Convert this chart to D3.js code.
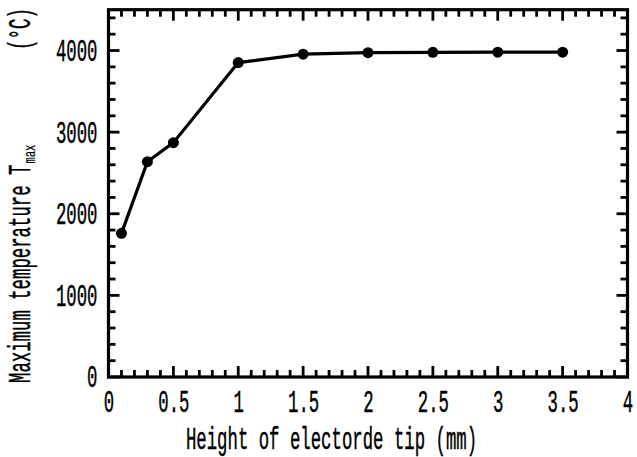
<!DOCTYPE html>
<html><head><meta charset="utf-8">
<script src="https://cdn.jsdelivr.net/npm/d3@7"></script>
<style>body{margin:0;background:#fff}svg{display:block}</style>
</head><body>
<script>
const heights = [0.1, 0.3, 0.5, 1, 1.5, 2, 2.5, 3, 3.5];
const tmax = [1760, 2638, 2871, 3852, 3955, 3974, 3978, 3980, 3980];
const xMajor = [0, 0.5, 1, 1.5, 2, 2.5, 3, 3.5, 4];
const xLabels = ["0", "0.5", "1", "1.5", "2", "2.5", "3", "3.5", "4"];
const yMajor = [0, 1000, 2000, 3000, 4000];
const yLabels = ["0", "1000", "2000", "3000", "4000"];
const xTitle = "Height of electorde tip (mm)";
const yTitleMain = "Maximum temperature T";
const yTitleSub = "max";
const yTitleUnit = "(°C)";

const W = 637, H = 457;
const L = 108.5, R = 627.5, T = 9.7, B = 377;
const CW = 10.4;
const FS = 31;
const FONT = "'Liberation Mono', 'DejaVu Sans Mono', monospace";

const svg = d3.select("body").append("svg").attr("width", W).attr("height", H);
const x = d3.scaleLinear().domain([0, 4]).range([L, R]);
const y = d3.scaleLinear().domain([0, 4500]).range([B, T]);

const xMinor = d3.range(0, 41).map(i => i / 10).filter(v => Math.abs(v * 2 - Math.round(v * 2)) > 1e-6);
const yMinor = d3.range(0, 4401, 200).filter(v => v % 1000 !== 0);

// tick marks (inward on all four sides), positioned by the scales
const tg = svg.append("g").attr("fill", "#000");
const TW = 2.8;
function addTicksX(vals, len) {
  vals.forEach(v => {
    tg.append("rect").attr("x", x(v) - TW / 2).attr("y", B - len).attr("width", TW).attr("height", len);
    tg.append("rect").attr("x", x(v) - TW / 2).attr("y", T).attr("width", TW).attr("height", len);
  });
}
function addTicksY(vals, len) {
  vals.forEach(v => {
    tg.append("rect").attr("x", L).attr("y", y(v) - TW / 2).attr("width", len).attr("height", TW);
    tg.append("rect").attr("x", R - len).attr("y", y(v) - TW / 2).attr("width", len).attr("height", TW);
  });
}
addTicksX(xMinor, 7);
addTicksX(xMajor, 11);
addTicksY(yMinor, 7);
addTicksY(yMajor, 11);

function styleText(sel) {
  sel.attr("font-family", FONT).attr("fill", "#000")
    .attr("stroke", "#000").attr("stroke-width", 0.45);
}
function fmtText(g) {
  g.select(".domain").remove();
  g.selectAll(".tick line").remove();
  g.selectAll(".tick text")
    .call(styleText).attr("font-size", FS)
    .each(function () {
      const t = d3.select(this).text();
      d3.select(this).attr("textLength", t.length * CW).attr("lengthAdjust", "spacingAndGlyphs");
    });
}

svg.append("g").attr("transform", `translate(0,${B})`)
  .call(d3.axisBottom(x).tickValues(xMajor).tickSize(0).tickPadding(13)
    .tickFormat((d, i) => xLabels[i]))
  .call(fmtText);
svg.append("g").attr("transform", `translate(${L},0)`)
  .call(d3.axisLeft(y).tickValues(yMajor).tickSize(0).tickPadding(11)
    .tickFormat((d, i) => yLabels[i]))
  .call(fmtText);

svg.append("rect").attr("x", L).attr("y", T).attr("width", R - L).attr("height", B - T)
  .attr("fill", "none").attr("stroke", "#000").attr("stroke-width", 3.2);

const data = heights.map((h, i) => ({ h, t: tmax[i] }));
svg.append("path").datum(data)
  .attr("d", d3.line().x(d => x(d.h)).y(d => y(d.t)))
  .attr("fill", "none").attr("stroke", "#000").attr("stroke-width", 3.2);
svg.append("g").selectAll("circle").data(data).join("circle")
  .attr("cx", d => x(d.h)).attr("cy", d => y(d.t)).attr("r", 5.5).attr("fill", "#000");

svg.append("text").attr("x", 331.5).attr("y", 449).attr("text-anchor", "middle")
  .call(styleText).attr("font-size", FS)
  .attr("textLength", xTitle.length * CW).attr("lengthAdjust", "spacingAndGlyphs")
  .text(xTitle);

const yt = svg.append("g").attr("transform", "translate(30,383) rotate(-90)");
yt.append("text").attr("x", 0).attr("y", 0)
  .call(styleText).attr("font-size", FS)
  .attr("textLength", yTitleMain.length * CW).attr("lengthAdjust", "spacingAndGlyphs")
  .text(yTitleMain);
yt.append("text").attr("x", yTitleMain.length * CW + 1).attr("y", 5)
  .call(styleText).attr("stroke-width", 0.2).attr("font-size", 16)
  .attr("textLength", 19).attr("lengthAdjust", "spacingAndGlyphs")
  .text(yTitleSub);
yt.append("text").attr("x", 333).attr("y", 0)
  .call(styleText).attr("font-size", FS)
  .attr("textLength", 42).attr("lengthAdjust", "spacingAndGlyphs")
  .text(yTitleUnit);
</script>
</body></html>
